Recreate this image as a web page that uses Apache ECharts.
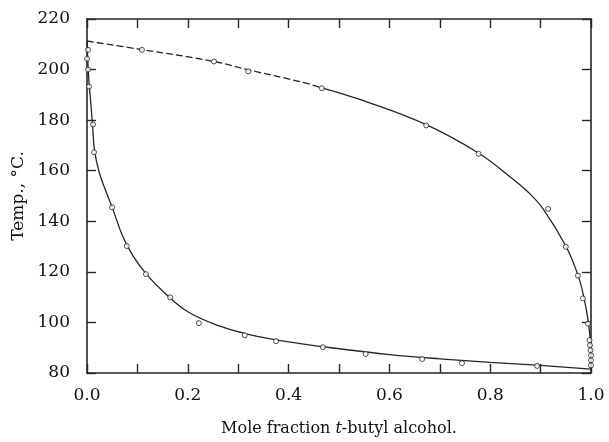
<!DOCTYPE html>
<html>
<head>
<meta charset="utf-8">
<script src="https://cdn.jsdelivr.net/npm/echarts@6/dist/echarts.min.js"></script>
<style>
  html, body { margin: 0; padding: 0; background: #fff; }
  #chart { width: 609px; height: 442px; }
</style>
</head>
<body>
<div id="chart"></div>
<script>
// Axis ticks and labels
const xLabelValues = [0, 0.2, 0.4, 0.6, 0.8, 1.0];
const xTickLabels = ['0.0', '0.2', '0.4', '0.6', '0.8', '1.0'];
const yTickLabels = ['80', '100', '120', '140', '160', '180', '200', '220'];

// Measured points, [mole fraction, temperature °C]
const lowerPoints = [
  [0.002, 207.8], [0.0, 204.3], [0.002, 200.0], [0.004, 193.3],
  [0.012, 178.3], [0.014, 167.3], [0.050, 145.5], [0.079, 130.2],
  [0.117, 119.1], [0.165, 109.9], [0.222, 99.7], [0.313, 94.9],
  [0.375, 92.6], [0.468, 90.2], [0.553, 87.5], [0.665, 85.5],
  [0.744, 83.9], [0.893, 82.8]
];
const upperPoints = [
  [0.109, 207.8], [0.252, 203.2], [0.320, 199.3], [0.466, 192.6],
  [0.673, 177.9], [0.777, 166.7], [0.915, 144.9], [0.950, 129.9],
  [0.974, 118.5], [0.984, 109.5], [0.994, 99.5], [0.997, 93.0],
  [0.998, 91.0], [0.999, 89.0], [1.0, 87.0], [1.0, 85.0], [1.0, 83.0]
];

// Drawn boundary curves
const lowerCurve = [
  [0, 211.3], [0.003, 198], [0.007, 188], [0.011, 178],
  [0.015, 168], [0.024, 159.5], [0.036, 152.7], [0.05, 145.5], [0.07, 134.5],
  [0.091, 126.4], [0.117, 119.3], [0.151, 112.2], [0.2, 104.2], [0.264, 98.5],
  [0.32, 95.3], [0.4, 92.3], [0.5, 89.6], [0.6, 87.3], [0.7, 85.6],
  [0.8, 84.2], [0.9, 83.0], [1.0, 81.5]
];
const upperCurveDashed = [
  [0, 211.3], [0.109, 207.9], [0.252, 203.2], [0.32, 199.9], [0.423, 195.2], [0.466, 192.8]
];
const upperCurveSolid = [
  [0.466, 192.8], [0.55, 187.6], [0.673, 178.2], [0.778, 166.8], [0.843, 157.0],
  [0.875, 151.6], [0.905, 144.9], [0.95, 130.2], [0.974, 118.8], [0.986, 109.8],
  [0.995, 99.8], [0.999, 91.0], [1.0, 81.5]
];

const ink = '#262626';
const serif = '"DejaVu Serif", "Liberation Serif", serif';

function xLabel(v) {
  const i = xLabelValues.findIndex(t => Math.abs(t - v) < 1e-6);
  return i < 0 ? '' : xTickLabels[i];
}
function yLabel(v) {
  const i = yTickLabels.indexOf(String(Math.round(v)));
  return i < 0 ? '' : yTickLabels[i];
}

const frameAxis = {
  axisLine: { show: true, onZero: false, lineStyle: { color: ink, width: 1.6 } },
  axisTick: { show: true, inside: true, length: 9, lineStyle: { color: ink, width: 1.4 } },
  splitLine: { show: false }
};

const chart = echarts.init(document.getElementById('chart'), null, { renderer: 'canvas' });
chart.setOption({
  backgroundColor: '#fff',
  animation: false,
  grid: { left: 87, right: 18, top: 19, bottom: 67 },
  xAxis: [
    Object.assign({
      type: 'value', position: 'bottom', min: 0, max: 1, interval: 0.1,
      axisLabel: { formatter: xLabel, color: '#111', fontFamily: serif, fontSize: 17, margin: 14 },
      name: '{n|Mole fraction }{i|t}{n|-butyl alcohol.}',
      nameLocation: 'middle', nameGap: 48,
      nameTextStyle: {
        rich: {
          n: { fontFamily: serif, fontSize: 16, color: '#111' },
          i: { fontFamily: serif, fontSize: 16, color: '#111', fontStyle: 'italic' }
        }
      }
    }, frameAxis),
    Object.assign({
      type: 'value', position: 'top', min: 0, max: 1, interval: 0.1,
      axisLabel: { show: false }
    }, frameAxis)
  ],
  yAxis: [
    Object.assign({
      type: 'value', position: 'left', min: 80, max: 220, interval: 20,
      axisLabel: { formatter: yLabel, color: '#111', fontFamily: serif, fontSize: 17, margin: 17 },
      name: 'Temp., °C.', nameLocation: 'middle', nameGap: 56,
      nameTextStyle: { fontFamily: serif, fontSize: 17, color: '#111' }
    }, frameAxis),
    Object.assign({
      type: 'value', position: 'right', min: 80, max: 220, interval: 20,
      axisLabel: { show: false }
    }, frameAxis)
  ],
  series: [
    {
      type: 'line', data: lowerCurve, smooth: 0.4,
      symbol: 'none', lineStyle: { color: ink, width: 1.3 }, z: 2
    },
    {
      type: 'line', data: upperCurveDashed, smooth: 0.4,
      symbol: 'none', lineStyle: { color: ink, width: 1.3, type: [7, 3] }, z: 2
    },
    {
      type: 'line', data: upperCurveSolid, smooth: 0.4,
      symbol: 'none', lineStyle: { color: ink, width: 1.3 }, z: 2
    },
    {
      type: 'scatter', data: lowerPoints, symbol: 'circle', symbolSize: 5,
      itemStyle: { color: '#fff', borderColor: ink, borderWidth: 1 }, z: 3
    },
    {
      type: 'scatter', data: upperPoints, symbol: 'circle', symbolSize: 5,
      itemStyle: { color: '#fff', borderColor: ink, borderWidth: 1 }, z: 3
    }
  ]
});
</script>
</body>
</html>
